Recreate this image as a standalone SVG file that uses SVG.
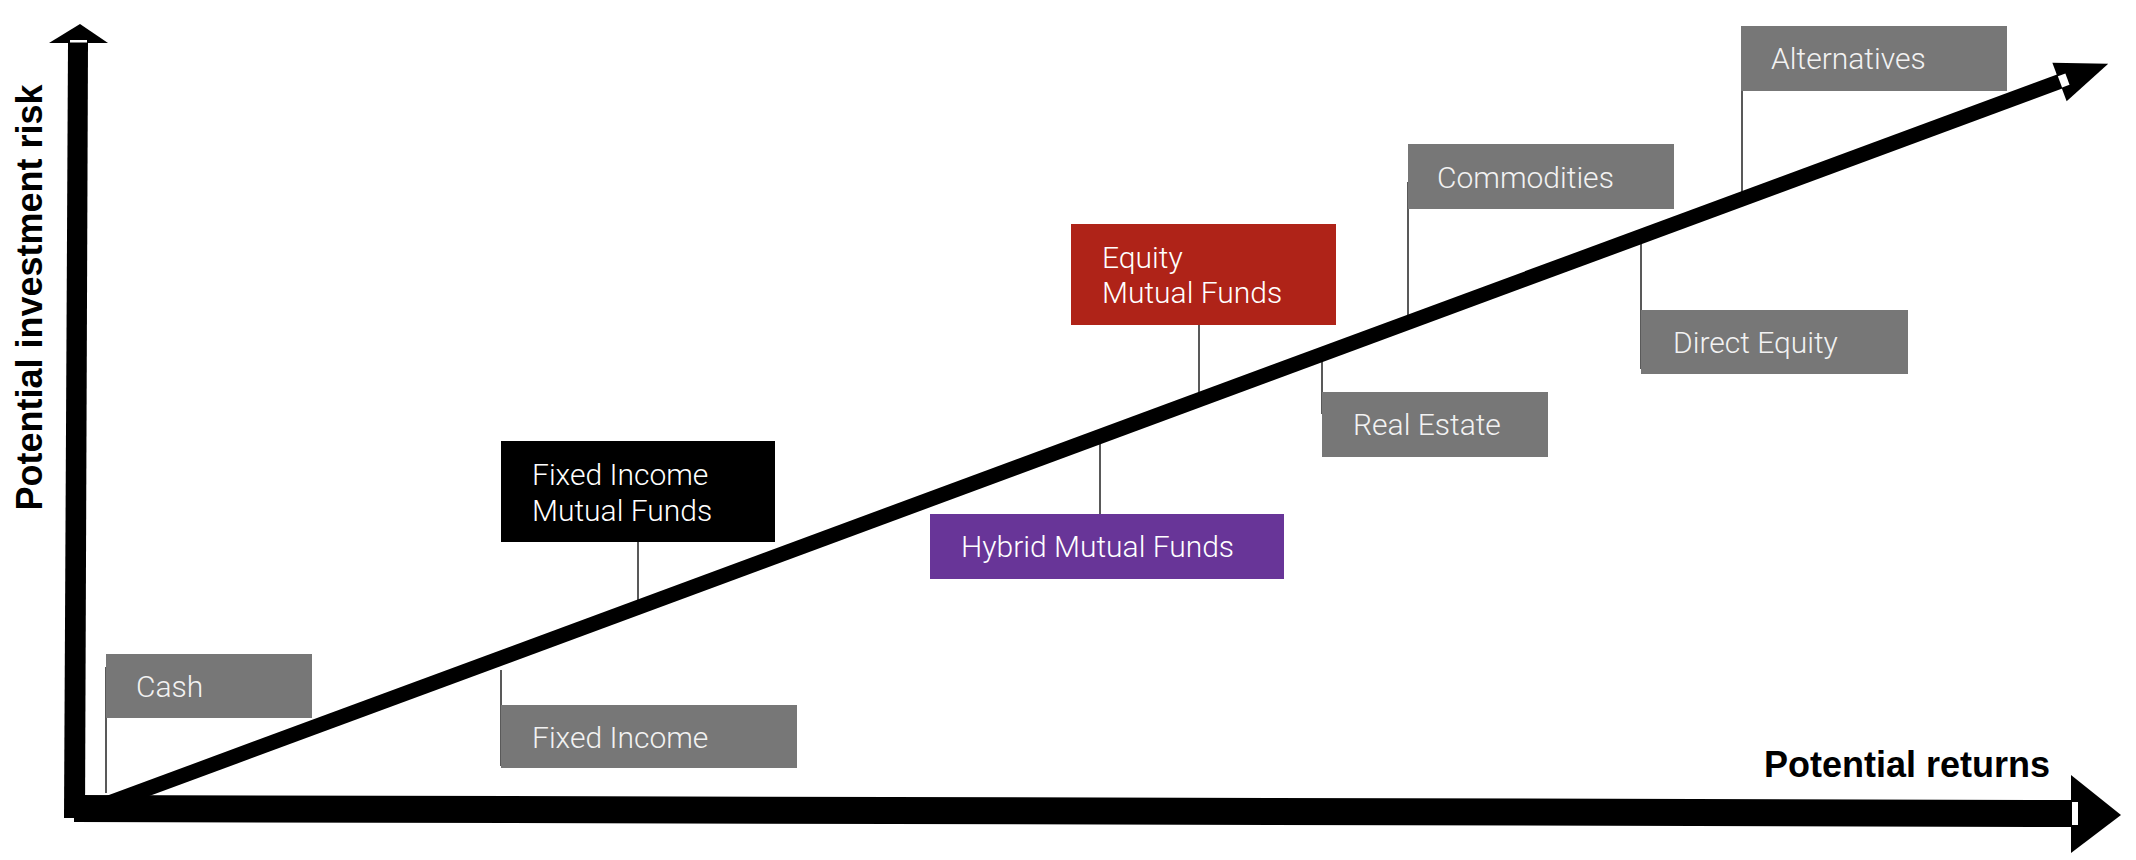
<svg xmlns="http://www.w3.org/2000/svg" width="2136" height="860" viewBox="0 0 2136 860">
<style>
.box{fill:#777777}
.lbl{font-family:Roboto,"Liberation Sans",sans-serif;font-weight:300;font-size:30px;fill:#f2f2f2}
.wl{fill:#ffffff}
.lead{stroke:#222222;stroke-width:1.5;fill:none}
.axis{font-family:"Liberation Sans",Arial,sans-serif;font-weight:bold;font-size:36px;fill:#000000}
.ax{fill:#000000}
.gap{fill:#ffffff}
</style>
<rect width="2136" height="860" fill="#ffffff"/>
<g id="connectors">
  <line class="lead" x1="106" y1="667" x2="106" y2="793"/>
  <line class="lead" x1="501" y1="670" x2="501" y2="766"/>
  <line class="lead" x1="638" y1="542" x2="638" y2="606"/>
  <line class="lead" x1="1100" y1="440" x2="1100" y2="514"/>
  <line class="lead" x1="1199" y1="325" x2="1199" y2="398"/>
  <line class="lead" x1="1322" y1="356" x2="1322" y2="414"/>
  <line class="lead" x1="1408" y1="182" x2="1408" y2="320"/>
  <line class="lead" x1="1641" y1="238" x2="1641" y2="369"/>
  <line class="lead" x1="1742" y1="66" x2="1742" y2="197"/>
</g>
<g id="node-cash">
  <rect class="box" x="106" y="654" width="206" height="64"/>
  <text class="lbl" x="136" y="697">Cash</text>
</g>
<g id="node-fixed-income">
  <rect class="box" x="501" y="705" width="296" height="63"/>
  <text class="lbl" x="532" y="748">Fixed Income</text>
</g>
<g id="node-fixed-income-mf">
  <rect x="501" y="441" width="274" height="101" fill="#000000"/>
  <text class="lbl wl" x="532" y="485">Fixed Income</text>
  <text class="lbl wl" x="532" y="521">Mutual Funds</text>
</g>
<g id="node-hybrid-mf">
  <rect x="930" y="514" width="354" height="65" fill="#683598"/>
  <text class="lbl wl" x="961" y="557">Hybrid Mutual Funds</text>
</g>
<g id="node-equity-mf">
  <rect x="1071" y="224" width="265" height="101" fill="#AF2318"/>
  <text class="lbl wl" x="1102" y="268">Equity</text>
  <text class="lbl wl" x="1102" y="303">Mutual Funds</text>
</g>
<g id="node-real-estate">
  <rect class="box" x="1322" y="392" width="226" height="65"/>
  <text class="lbl" x="1353" y="435">Real Estate</text>
</g>
<g id="node-commodities">
  <rect class="box" x="1408" y="144" width="266" height="65"/>
  <text class="lbl" x="1437" y="188">Commodities</text>
</g>
<g id="node-direct-equity">
  <rect class="box" x="1641" y="310" width="267" height="64"/>
  <text class="lbl" x="1673" y="353">Direct Equity</text>
</g>
<g id="node-alternatives">
  <rect class="box" x="1741" y="26" width="266" height="65"/>
  <text class="lbl" x="1771" y="69">Alternatives</text>
</g>
<g id="axes">
  <!-- vertical axis -->
  <polygon class="ax" points="80,24 108,43 49,43"/>
  <polygon class="ax" points="68,43 88,43 85,818 64,818"/>
  <rect class="gap" x="70" y="40" width="17" height="2.5"/>
  <!-- horizontal axis -->
  <polygon class="ax" points="2071,775 2121,815 2071,853"/>
  <polygon class="ax" points="74,795 2078,800 2078,827 74,822"/>
  <rect class="gap" x="2072" y="802" width="6" height="23"/>
  <!-- diagonal -->
  <line x1="100" y1="806.3" x2="2061" y2="81" stroke="#000000" stroke-width="15"/>
  <g transform="translate(2059.5,82) rotate(-20.4)">
    <polygon class="ax" points="0,-20.5 52,0 0,20.5"/>
    <rect class="gap" x="0.5" y="-6" width="8" height="12"/>
  </g>
</g>
<g id="axis-labels">
  <text class="axis" x="2050" y="777" text-anchor="end">Potential returns</text>
  <text class="axis" transform="translate(42,297.5) rotate(-90)" text-anchor="middle">Potential investment risk</text>
</g>
</svg>
